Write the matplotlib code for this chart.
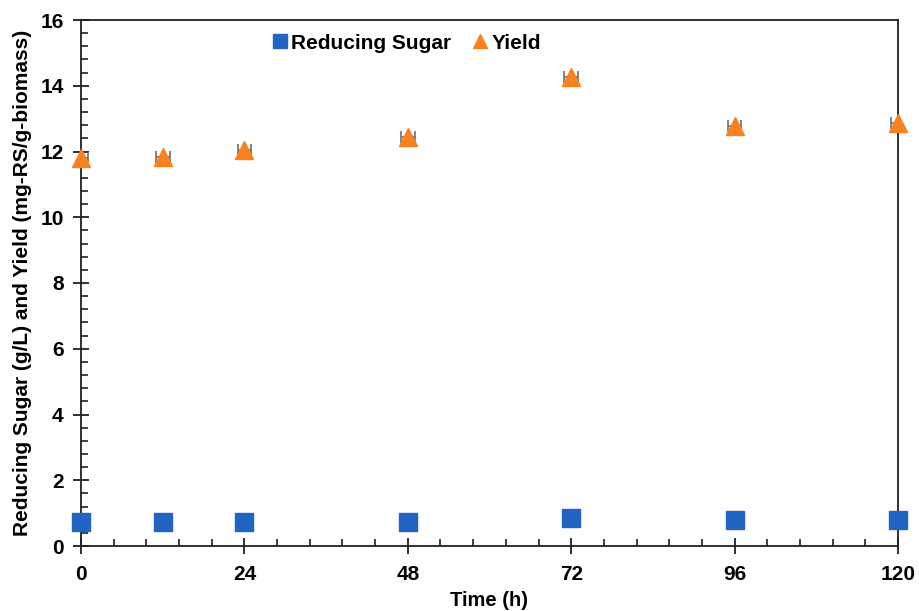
import matplotlib
matplotlib.use("Agg")
import matplotlib.pyplot as plt
from matplotlib.ticker import MultipleLocator

plt.rcParams["font.family"] = ["Liberation Sans", "DejaVu Sans"]

time_h = [0, 12, 24, 48, 72, 96, 120]
reducing_sugar = [0.74, 0.74, 0.74, 0.74, 0.85, 0.79, 0.79]
yield_val = [11.8, 11.83, 12.04, 12.44, 14.26, 12.77, 12.86]
yield_xerr = [1.0, 1.0, 1.0, 1.0, 1.0, 1.0, 1.0]

blue = "#2264c3"
orange = "#f7821e"

fig = plt.figure(figsize=(9.19, 6.11), dpi=100)
ax = fig.add_axes([81 / 919, 65 / 611, 817 / 919, 526 / 611])

ax.errorbar(time_h, yield_val, xerr=yield_xerr, fmt="none",
            ecolor="#6e6e6e", elinewidth=1.2, capsize=4, capthick=1.2, zorder=2)
ax.plot(time_h, reducing_sugar, "s", color=blue, markersize=12.5,
        label="Reducing Sugar", zorder=3, clip_on=False)
ax.plot(time_h, yield_val, "^", color=orange, markersize=13.5,
        label="Yield", zorder=3, clip_on=False)

ax.set_xlim(0, 120)
ax.set_ylim(0, 16)
ax.xaxis.set_major_locator(MultipleLocator(24))
ax.xaxis.set_minor_locator(MultipleLocator(4.8))
ax.yaxis.set_major_locator(MultipleLocator(2))
ax.yaxis.set_minor_locator(MultipleLocator(0.4))

for side in ["left", "bottom", "top", "right"]:
    ax.spines[side].set_linewidth(1.3)
    ax.spines[side].set_color("#202020")
ax.tick_params(axis="x", which="major", pad=8)
ax.tick_params(axis="y", which="major", pad=7)
ax.tick_params(which="major", direction="inout", length=11, width=1.3,
               labelsize=15, colors="#202020", labelcolor="black")
ax.tick_params(which="minor", direction="in", length=5, width=1.2, colors="#202020")
for lbl in ax.get_xticklabels() + ax.get_yticklabels():
    lbl.set_fontweight("bold")

ax.set_xlabel("Time (h)", fontsize=14.5, fontweight="bold", labelpad=5)
ax.set_ylabel("Reducing Sugar (g/L) and Yield (mg-RS/g-biomass)",
              fontsize=15, fontweight="bold", labelpad=6)

ax.legend(loc="center", bbox_to_anchor=(0.397, 0.956), ncol=2, frameon=False,
          prop={"size": 15, "weight": "bold"}, handletextpad=0.05,
          columnspacing=0.9, markerscale=0.76, handlelength=1.0)

fig.savefig("out.png", dpi=100)
